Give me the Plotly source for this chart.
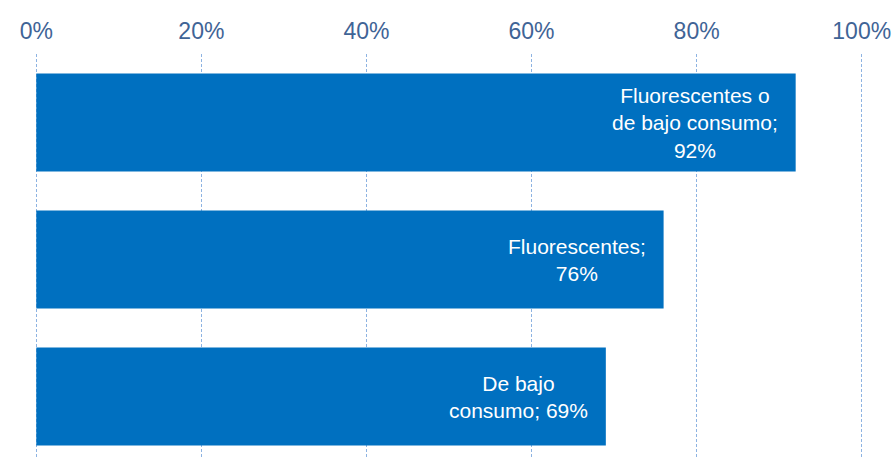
import plotly.graph_objects as go

# Share of respondents by type of lamp
categories = ["Fluorescentes o de bajo consumo", "Fluorescentes", "De bajo consumo"]
values = [0.92, 0.76, 0.69]
labels = ["Fluorescentes o<br>de bajo consumo;<br>92%",
          "Fluorescentes;<br>76%",
          "De bajo<br>consumo; 69%"]
tick_values = [0, 0.2, 0.4, 0.6, 0.8, 1.0]
tick_labels = ["0%", "20%", "40%", "60%", "80%", "100%"]

BAR_BLUE = "#0070C0"
AXIS_TEXT = "#3F6496"
GRID = "#8DB3E2"

fig = go.Figure()
fig.add_trace(go.Bar(
    x=values,
    y=categories,
    orientation="h",
    marker=dict(color=BAR_BLUE, line=dict(width=0)),
    hoverinfo="skip",
))

# Value labels inside the bar ends
for cat, val, lab in zip(categories, values, labels):
    fig.add_annotation(
        x=val, y=cat, text=lab,
        xanchor="right", yanchor="middle", align="center",
        xshift=-16, showarrow=False,
        font=dict(family="Liberation Sans, Arial, sans-serif", size=21, color="white"),
    )

fig.update_layout(
    width=895, height=459,
    margin=dict(l=33, r=30, t=54, b=0),
    paper_bgcolor="white", plot_bgcolor="white",
    bargap=0.285,
    showlegend=False,
    font=dict(family="Liberation Sans, Arial, sans-serif"),
)
fig.update_xaxes(
    side="top",
    range=[-0.004, 1.004],
    tickvals=tick_values, ticktext=tick_labels,
    tickfont=dict(size=23, color=AXIS_TEXT),
    ticklabelstandoff=9,
    showgrid=True, gridcolor=GRID, gridwidth=1, griddash="3px,2px",
    zeroline=False, showline=False, ticks="",
)
fig.update_yaxes(
    type="category",
    categoryorder="array", categoryarray=categories,
    range=[2.456, -0.5],
    showticklabels=False, showgrid=False, zeroline=False, showline=False, ticks="",
)

fig.write_html("out.html")
